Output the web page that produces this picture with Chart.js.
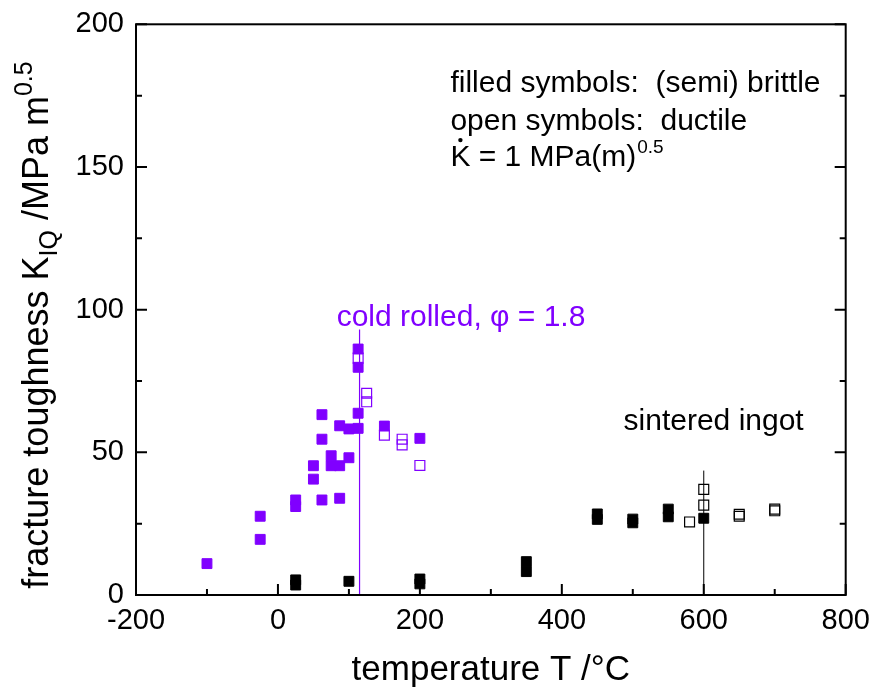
<!DOCTYPE html>
<html>
<head>
<meta charset="utf-8">
<script src="https://cdn.jsdelivr.net/npm/chart.js@4.4.1/dist/chart.umd.min.js"></script>
<style>
  body { margin: 0; background: #fff; }
  #wrap { width: 874px; height: 694px; position: relative; }
</style>
</head>
<body>
<div id="wrap"><canvas id="toughChart"></canvas></div>
<script>
// cold rolled material (purple)
const purpleFilledT = [-100, -25, -25, 25, 25, 50, 50, 62, 62, 62, 75, 75, 87, 87, 87, 100, 100, 113, 113, 113, 113, 150, 200]
const purpleFilledK = [11, 27.6, 19.5, 33.3, 31, 45.3, 40.6, 63.2, 54.6, 33.3, 48.8, 45.3, 59.3, 45.3, 33.9, 58.2, 48.1, 86.2, 79.8, 63.7, 58.4, 59.2, 54.9]
const purpleOpenT = [113, 125, 125, 150, 175, 175, 200]
const purpleOpenK = [83, 70.7, 67.7, 56, 54.6, 52.6, 45.4]

// sintered ingot (black)
const blackFilledT = [25, 25, 100, 200, 200, 350, 350, 450, 450, 500, 500, 550, 550, 600]
const blackFilledK = [5.3, 3.5, 4.8, 5.6, 3.9, 11.7, 8.2, 28.4, 26.5, 26.6, 25.3, 30.1, 27.4, 26.9]
const blackOpenT = [580, 600, 600, 650, 650, 700, 700]
const blackOpenK = [25.6, 37, 31.5, 28.3, 27.6, 30.1, 29.5]

// transition markers (vertical lines)
const coldLineT = [115, 115]
const coldLineK = [0, 93]
const sinterLineT = [600, 600]
const sinterLineK = [0, 43.6]

// axes
const xMin = -200, xMax = 800, xStep = 200
const yMin = 0, yMax = 200, yStep = 50

const PURPLE = '#8000ff'
const FONT = "'Liberation Sans', Arial, sans-serif"

const toPoints = (xs, ys) => xs.map((x, i) => ({ x: x, y: ys[i] }))

/** frame, inward ticks and all the text that chart.js can't do (sub/superscripts) */
const decorations = {
  id: 'decorations',
  afterDraw(chart) {
    const ctx = chart.ctx
    const a = chart.chartArea
    const xs = chart.scales.x
    const ys = chart.scales.y
    ctx.save()

    // frame
    ctx.strokeStyle = '#000'
    ctx.lineWidth = 2
    ctx.strokeRect(a.left, a.top, a.right - a.left, a.bottom - a.top)

    // inward ticks, major + minor
    ctx.lineWidth = 2
    ctx.beginPath()
    for (let v = xMin; v <= xMax; v += xStep / 2) {
      const px = xs.getPixelForValue(v)
      const len = (v - xMin) % xStep === 0 ? 11 : 6
      ctx.moveTo(px, a.bottom)
      ctx.lineTo(px, a.bottom - len)
    }
    for (let v = yMin; v <= yMax; v += yStep / 2) {
      const py = ys.getPixelForValue(v)
      const len = (v - yMin) % yStep === 0 ? 11 : 6
      ctx.moveTo(a.left, py)
      ctx.lineTo(a.left + len, py)
      ctx.moveTo(a.right, py)
      ctx.lineTo(a.right - len, py)
    }
    ctx.stroke()

    ctx.fillStyle = '#000'
    ctx.textBaseline = 'alphabetic'
    ctx.textAlign = 'left'

    // x axis title
    ctx.font = '35px ' + FONT
    ctx.textAlign = 'center'
    ctx.fillText('temperature T /°C', (a.left + a.right) / 2, 680)
    ctx.textAlign = 'left'

    // y axis title, built from pieces
    const parts = [
      { t: 'fracture toughness K', size: 36, dy: 0 },
      { t: 'IQ', size: 25, dy: 9 },
      { t: ' /MPa m', size: 36, dy: 0 },
      { t: '0.5', size: 25, dy: -16 }
    ]
    let total = 0
    parts.forEach(p => { ctx.font = p.size + 'px ' + FONT; p.w = ctx.measureText(p.t).width; total += p.w })
    ctx.translate(48, 325)
    ctx.rotate(-Math.PI / 2)
    let cx = -total / 2
    parts.forEach(p => {
      ctx.font = p.size + 'px ' + FONT
      ctx.fillText(p.t, cx, p.dy)
      cx += p.w
    })
    ctx.setTransform(1, 0, 0, 1, 0, 0)

    // legend-ish notes
    ctx.font = '30px ' + FONT
    const nx = xs.getPixelForValue(243)
    ctx.fillText('filled symbols:  (semi) brittle', nx, ys.getPixelForValue(176.2))
    ctx.fillText('open symbols:  ductile', nx, ys.getPixelForValue(162.9))
    const by = ys.getPixelForValue(150.3)
    ctx.fillText('K', nx, by)
    const kw = ctx.measureText('K').width
    ctx.beginPath()
    ctx.arc(nx + kw / 2, by - 26, 2.2, 0, Math.PI * 2)
    ctx.fill()
    const rest = ' = 1 MPa(m)'
    ctx.fillText(rest, nx + kw, by)
    const rw = ctx.measureText(rest).width
    ctx.font = '19px ' + FONT
    ctx.fillText('0.5', nx + kw + rw + 1, by - 13)

    // series labels
    ctx.font = '30px ' + FONT
    ctx.fillStyle = PURPLE
    ctx.fillText('cold rolled, \u03c6 = 1.8', xs.getPixelForValue(82.7), ys.getPixelForValue(94.3))
    ctx.fillStyle = '#000'
    ctx.fillText('sintered ingot', xs.getPixelForValue(487), ys.getPixelForValue(57.8))

    ctx.restore()
  }
}

const data = {
  datasets: [
    {
      label: 'cold rolled line',
      data: toPoints(coldLineT, coldLineK),
      showLine: true,
      borderColor: PURPLE,
      borderWidth: 1.2,
      pointRadius: 0,
      order: 6
    },
    {
      label: 'sintered line',
      data: toPoints(sinterLineT, sinterLineK),
      showLine: true,
      borderColor: '#000',
      borderWidth: 1,
      pointRadius: 0,
      order: 5
    },
    {
      label: 'cold rolled, brittle',
      data: toPoints(purpleFilledT, purpleFilledK),
      pointStyle: 'rect',
      pointRadius: 7,
      backgroundColor: PURPLE,
      borderColor: PURPLE,
      borderWidth: 1,
      order: 4
    },
    {
      label: 'cold rolled, ductile',
      data: toPoints(purpleOpenT, purpleOpenK),
      pointStyle: 'rect',
      pointRadius: 7,
      backgroundColor: 'rgba(0,0,0,0)',
      borderColor: PURPLE,
      borderWidth: 1.2,
      order: 3
    },
    {
      label: 'sintered, brittle',
      data: toPoints(blackFilledT, blackFilledK),
      pointStyle: 'rect',
      pointRadius: 7,
      backgroundColor: '#000',
      borderColor: '#000',
      borderWidth: 1,
      order: 2
    },
    {
      label: 'sintered, ductile',
      data: toPoints(blackOpenT, blackOpenK),
      pointStyle: 'rect',
      pointRadius: 7,
      backgroundColor: 'rgba(0,0,0,0)',
      borderColor: '#000',
      borderWidth: 1.2,
      order: 1
    }
  ]
}

const config = {
  type: 'scatter',
  data: data,
  plugins: [decorations],
  options: {
    responsive: true,
    maintainAspectRatio: false,
    animation: false,
    layout: { padding: { top: 24.3, right: 28.3, left: 0, bottom: 0 } },
    plugins: {
      legend: { display: false },
      tooltip: { enabled: false }
    },
    scales: {
      x: {
        type: 'linear',
        min: xMin,
        max: xMax,
        grid: { display: false, drawTicks: false },
        border: { display: false },
        ticks: {
          stepSize: xStep,
          color: '#000',
          padding: 9,
          maxRotation: 0,
          font: { family: FONT, size: 29 }
        },
        // fixed height, and let end labels hang over the padding
        afterFit(scale) { scale.height = 99; scale.paddingLeft = 0; scale.paddingRight = 0 }
      },
      y: {
        type: 'linear',
        min: yMin,
        max: yMax,
        grid: { display: false, drawTicks: false },
        border: { display: false },
        ticks: {
          stepSize: yStep,
          color: '#000',
          padding: 12,
          font: { family: FONT, size: 29 }
        },
        afterFit(scale) { scale.width = 136; scale.paddingTop = 0; scale.paddingBottom = 0 }
      }
    }
  }
}

const toughChart = new Chart(document.getElementById('toughChart'), config)
</script>
</body>
</html>
